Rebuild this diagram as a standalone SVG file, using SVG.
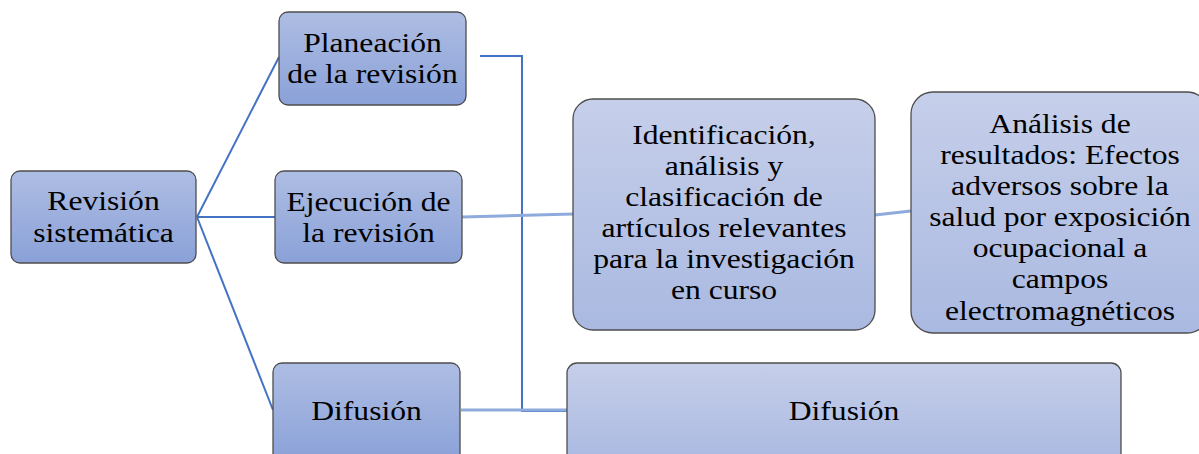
<svg xmlns="http://www.w3.org/2000/svg" width="1199" height="454" viewBox="0 0 1199 454">
<style>
.t{font-family:"Liberation Serif","Times New Roman",serif;font-size:28px;fill:#000;text-anchor:middle}
.box{stroke:#4d4d4d;stroke-width:1.3}
.dark{fill:url(#gd)}
.light{fill:url(#gl)}
.c1{stroke:#4472c4;stroke-width:2;fill:none}
.c2{stroke:#8faadc;stroke-width:3;fill:none}
</style>
<defs>
<linearGradient id="gd" x1="0" y1="0" x2="0" y2="1">
<stop offset="0" stop-color="#aebde3"/>
<stop offset="1" stop-color="#8aa1d8"/>
</linearGradient>
<linearGradient id="gl" x1="0" y1="0" x2="0" y2="1">
<stop offset="0" stop-color="#c6cfea"/>
<stop offset="1" stop-color="#aab9e1"/>
</linearGradient>
</defs>
<g id="connectors">
<line class="c1" x1="197" y1="217" x2="279" y2="57"/>
<line class="c1" x1="197" y1="217" x2="275" y2="217"/>
<line class="c1" x1="197" y1="217" x2="273" y2="410"/>
<polyline class="c1" points="480,56 522,56 522,411 567,411"/>
<line class="c2" x1="462" y1="217" x2="573" y2="214"/>
<line class="c2" x1="875" y1="215" x2="911" y2="211"/>
<line class="c2" x1="461" y1="410" x2="567" y2="410"/>
</g>
<g id="revision">
<rect class="box dark" x="11" y="171" width="185" height="92" rx="9"/>
<g transform="translate(103.5 0) scale(1.13 1)" font-family="Liberation Serif"><text class="t" x="0" y="210">Revisión</text><text class="t" x="0" y="242">sistemática</text></g>
</g>
<g id="planeacion">
<rect class="box dark" x="279" y="12" width="187" height="93" rx="9"/>
<g transform="translate(372.5 0) scale(1.13 1)" font-family="Liberation Serif"><text class="t" x="0" y="52">Planeación</text><text class="t" x="0" y="83">de la revisión</text></g>
</g>
<g id="ejecucion">
<rect class="box dark" x="275" y="171" width="187" height="92" rx="9"/>
<g transform="translate(368.5 0) scale(1.13 1)" font-family="Liberation Serif"><text class="t" x="0" y="211">Ejecución de</text><text class="t" x="0" y="242">la revisión</text></g>
</g>
<g id="difusion1">
<rect class="box dark" x="273" y="363" width="187" height="100" rx="9"/>
<g transform="translate(366.5 0) scale(1.13 1)" font-family="Liberation Serif"><text class="t" x="0" y="420">Difusión</text></g>
</g>
<g id="identificacion">
<rect class="box light" x="573" y="99" width="302" height="231" rx="20"/>
<g transform="translate(724 0) scale(1.13 1)" font-family="Liberation Serif">
<text class="t" x="0" y="144">Identificación,</text>
<text class="t" x="0" y="175">análisis y</text>
<text class="t" x="0" y="206">clasificación de</text>
<text class="t" x="0" y="237">artículos relevantes</text>
<text class="t" x="0" y="268">para la investigación</text>
<text class="t" x="0" y="299">en curso</text>
</g>
</g>
<g id="analisis">
<rect class="box light" x="911" y="92" width="298" height="241" rx="22"/>
<g transform="translate(1060 0) scale(1.13 1)" font-family="Liberation Serif">
<text class="t" x="0" y="133">Análisis de</text>
<text class="t" x="0" y="164">resultados: Efectos</text>
<text class="t" x="0" y="195">adversos sobre la</text>
<text class="t" x="0" y="226">salud por exposición</text>
<text class="t" x="0" y="257">ocupacional a</text>
<text class="t" x="0" y="288">campos</text>
<text class="t" x="0" y="320">electromagnéticos</text>
</g>
</g>
<g id="difusion2">
<rect class="box light" x="567" y="363" width="554" height="100" rx="10"/>
<g transform="translate(844 0) scale(1.13 1)" font-family="Liberation Serif"><text class="t" x="0" y="420">Difusión</text></g>
</g>
</svg>
